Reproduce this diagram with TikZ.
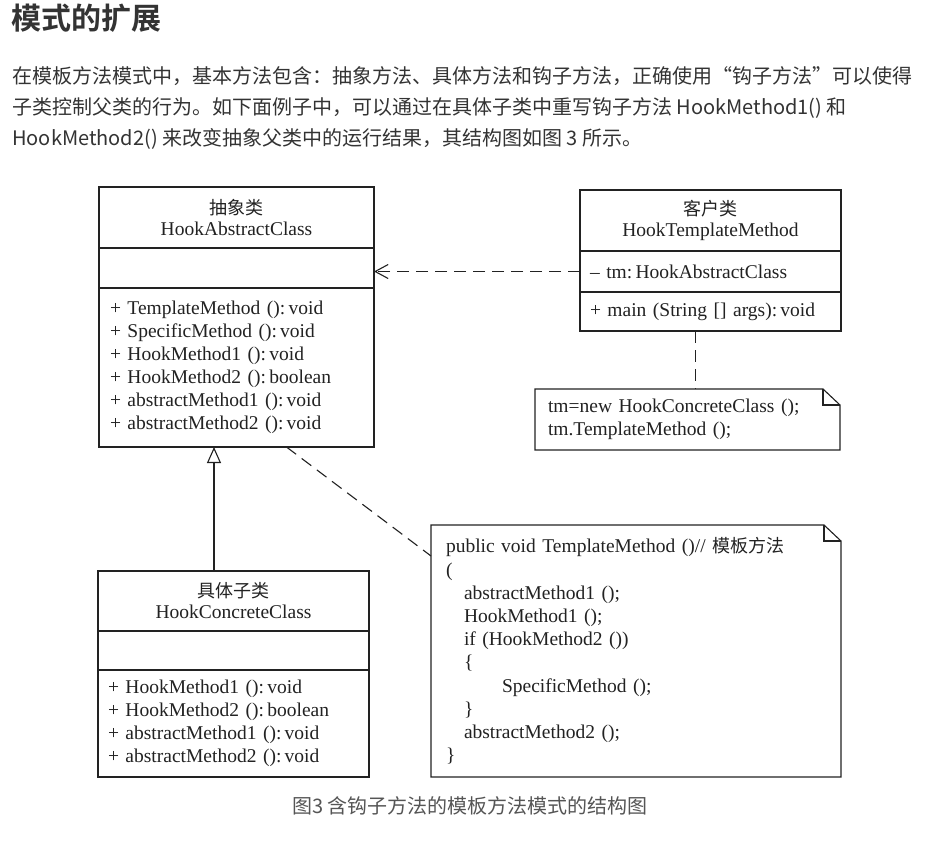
\documentclass[tikz,border=0pt]{standalone}
\usepackage{fontspec}
\setmainfont{Liberation Serif}
\newfontfamily\cjk{Noto Sans CJK SC}[BoldFont={Noto Sans CJK SC Bold}]
\usepackage{xcolor}
\usetikzlibrary{arrows.meta,positioning}

\definecolor{ink}{HTML}{222222}
\definecolor{pagetext}{HTML}{333333}
\definecolor{captext}{HTML}{555555}

% folded-corner outline of a UML note
\newcommand{\notefold}[1]{%
  \draw[umlline] (#1.north west) -- ([xshift=-17pt]#1.north east)
    -- ([yshift=-16pt]#1.north east) -- (#1.south east)
    -- (#1.south west) -- cycle;
  \draw[umlline] ([xshift=-17pt]#1.north east)
    -- ([xshift=-17pt,yshift=-16pt]#1.north east)
    -- ([yshift=-16pt]#1.north east);}

\begin{document}
\begin{tikzpicture}[
  x=1pt, y=-1pt,
  font=\fontsize{19.5}{23}\selectfont,
  umlline/.style={draw=ink, line width=1.1pt},
  namebox/.style={draw=ink, line width=1.1pt, outer sep=0pt, inner sep=0pt,
                  minimum width=#1, minimum height=61pt, align=center,
                  anchor=north west, text=ink,
                  font=\fontsize{19.5}{21}\selectfont},
  partbox/.style={draw=ink, line width=1.1pt, outer sep=0pt, inner sep=0pt,
                  minimum width=#1, text=ink},
  opsbox/.style={draw=ink, line width=1.1pt, outer sep=0pt, inner ysep=0pt,
                 inner xsep=#1, align=left, text=ink},
  opsbox/.default=10pt,
  notebox/.style={outer sep=0pt, inner ysep=0pt, inner xsep=#1,
                  align=left, anchor=north west, text=ink},
  dep/.style={umlline, dash pattern=on 12pt off 7pt},
]

\useasboundingbox[fill=white] (0,0) rectangle (934,846);

%% --- Page text ---
\node[anchor=west, inner sep=0pt, text=pagetext,
      font=\cjk\bfseries\fontsize{30}{34}\selectfont] (heading) at (11,18) {模式的扩展};

\node[anchor=west, inner sep=0pt, align=left, text=pagetext,
      font=\cjk\fontsize{20}{31}\selectfont] (intro) at (12,108)
  {在模板方法模式中，基本方法包含：抽象方法、具体方法和钩子方法，正确使用“钩子方法”可以使得\\
   子类控制父类的行为。如下面例子中，可以通过在具体子类中重写钩子方法 HookMethod1() 和\\
   HookMethod2() 来改变抽象父类中的运行结果，其结构图如图 3 所示。};

%% --- Abstract class ---
\node[namebox=275pt] (abs-name) at (99,187)
  {{\cjk\fontsize{18}{21}\selectfont 抽象类}\\HookAbstractClass};
\node[partbox=275pt, minimum height=40pt, below=0pt of abs-name] (abs-attr) {};
\node[opsbox=11pt, text width=253pt, minimum height=159pt, below=0pt of abs-attr] (abs-ops)
  {+ TemplateMethod ():\,void\\
   + SpecificMethod ():\,void\\
   + HookMethod1 ():\,void\\
   + HookMethod2 ():\,boolean\\
   + abstractMethod1 ():\,void\\
   + abstractMethod2 ():\,void};

%% --- Client class ---
\node[namebox=261pt] (cli-name) at (580,190)
  {{\cjk\fontsize{18}{21}\selectfont 客户类}\\HookTemplateMethod};
\node[opsbox, text width=241pt, minimum height=41pt, below=0pt of cli-name] (cli-attr)
  {-- tm:\,HookAbstractClass};
\node[opsbox, text width=241pt, minimum height=39pt, below=0pt of cli-attr] (cli-ops)
  {+ main (String [] args):\,void};

%% --- Concrete class ---
\node[namebox=271pt, minimum height=60pt] (con-name) at (98,571)
  {{\cjk\fontsize{18}{21}\selectfont 具体子类}\\HookConcreteClass};
\node[partbox=271pt, minimum height=39pt, below=0pt of con-name] (con-attr) {};
\node[opsbox, text width=251pt, minimum height=107pt, below=0pt of con-attr] (con-ops)
  {+ HookMethod1 ():\,void\\
   + HookMethod2 ():\,boolean\\
   + abstractMethod1 ():\,void\\
   + abstractMethod2 ():\,void};

%% --- Notes ---
\node[notebox=13pt, text width=279pt, minimum height=61pt] (note-main) at (535,389)
  {tm=new HookConcreteClass ();\\
   tm.TemplateMethod ();};
\notefold{note-main}

\node[notebox=15pt, text width=380pt, minimum height=252pt,
      font=\fontsize{19.5}{23.2}\selectfont] (note-tpl) at (431,525)
  {public void TemplateMethod ()// {\cjk\fontsize{18}{21}\selectfont 模板方法}\\
   (\\
   \hspace*{18pt}abstractMethod1 ();\\
   \hspace*{18pt}HookMethod1 ();\\
   \hspace*{18pt}if (HookMethod2 ())\\
   \hspace*{18pt}\{\\
   \hspace*{56pt}SpecificMethod ();\\
   \hspace*{18pt}\}\\
   \hspace*{18pt}abstractMethod2 ();\\
   \}};
\notefold{note-tpl}

%% --- Connectors ---
\draw[dep, -{Straight Barb[length=13pt,width=14pt]}]
  (cli-attr.west) -- (cli-attr.west -| abs-attr.east);
\draw[dep] ([xshift=-15pt]cli-ops.south) -- ([xshift=-15pt]cli-ops.south |- note-main.north);
\draw[umlline, -{Triangle[open,length=16pt,width=14pt]}]
  ([xshift=-19.5pt]con-name.north) -- ([xshift=-19.5pt]con-name.north |- abs-ops.south);
\draw[dep] ([xshift=50pt]abs-ops.south) -- ([yshift=95pt]note-tpl.west);

%% --- Caption ---
\node[inner sep=0pt, text=captext, font=\cjk\fontsize{20}{22}\selectfont]
  (caption) at (470,806) {图3 含钩子方法的模板方法模式的结构图};

\end{tikzpicture}
\end{document}
